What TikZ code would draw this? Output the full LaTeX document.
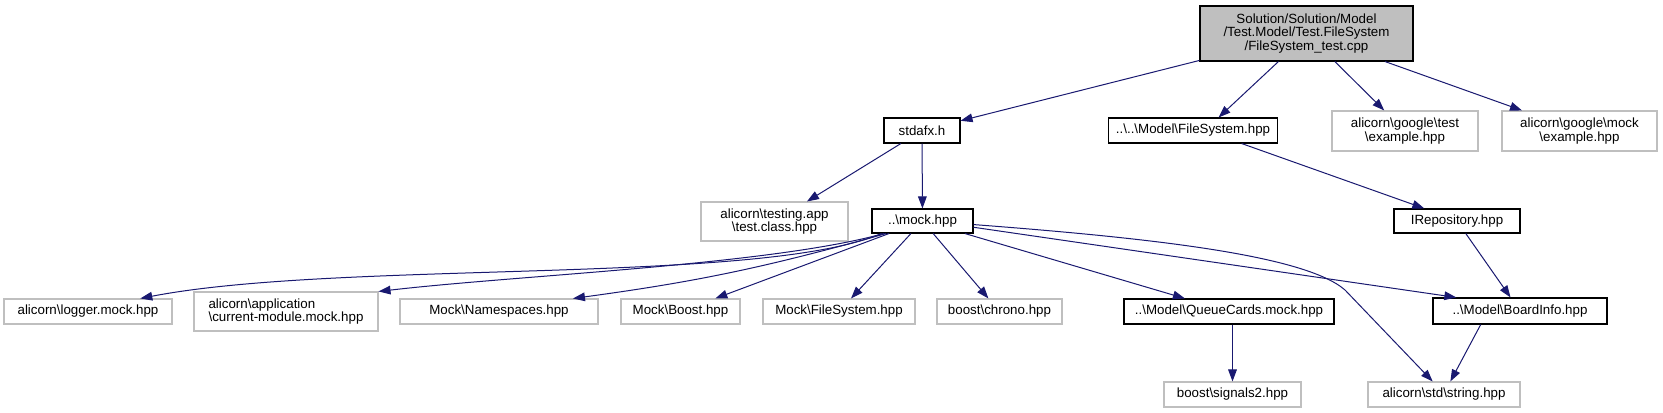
\documentclass[tikz,border=0pt]{standalone}
\usepackage{fontspec}
\setmainfont{Liberation Sans}
\usetikzlibrary{arrows.meta}
\definecolor{edgeblue}{HTML}{191970}
\definecolor{lightframe}{HTML}{BFBFBF}

\begin{document}
\begin{tikzpicture}[x=0.75pt,y=-0.75pt,>={Triangle[length=9pt,width=6.5pt]},
  file/.style={draw=black,fill=white,inner sep=0pt,line width=0.8pt,align=center,font=\fontsize{10}{10}\selectfont},
  ext/.style={file,draw=lightframe},
  sz/.style 2 args={minimum width=#1*0.75pt,minimum height=#2*0.75pt},
  dep/.style={->,draw=edgeblue,line width=0.75pt}]
\useasboundingbox (0,0) rectangle (1663,413);

\node[file,fill=lightframe,sz={213}{55}] (root) at (1306.5,33.5) {Solution/Solution/Model\\/Test.Model/Test.FileSystem\\/FileSystem\_test.cpp};

\node[file,sz={76}{25}] (stdafx) at (922,130.5) {stdafx.h};
\node[file,sz={169}{25}] (fsys) at (1193,130.5) {..\textbackslash..\textbackslash Model\textbackslash FileSystem.hpp};
\node[ext,sz={146}{40}] (gtest) at (1405,131) {alicorn\textbackslash google\textbackslash test\\\textbackslash example.hpp};
\node[ext,sz={155}{40}] (gmock) at (1579.5,131) {alicorn\textbackslash google\textbackslash mock\\\textbackslash example.hpp};

\node[ext,sz={147}{39}] (testapp) at (774.5,221.5) {alicorn\textbackslash testing.app\\\textbackslash test.class.hpp};
\node[file,sz={101}{24}] (mock) at (922.5,221) {..\textbackslash mock.hpp};
\node[file,sz={126}{24}] (irepo) at (1457,221) {IRepository.hpp};

\node[ext,sz={168}{25}] (logger) at (88,311.5) {alicorn\textbackslash logger.mock.hpp};
\node[ext,sz={184}{39},align=left] (curmod) at (286,311.5) {alicorn\textbackslash application\\\textbackslash current-module.mock.hpp};
\node[ext,sz={198}{25}] (nspace) at (499,311.5) {Mock\textbackslash Namespaces.hpp};
\node[ext,sz={119}{25}] (boost) at (680.5,311.5) {Mock\textbackslash Boost.hpp};
\node[ext,sz={152}{25}] (fsmock) at (839,311.5) {Mock\textbackslash FileSystem.hpp};
\node[ext,sz={125}{25}] (chrono) at (999.5,311.5) {boost\textbackslash chrono.hpp};
\node[file,sz={210}{25}] (qcards) at (1229,311.5) {..\textbackslash Model\textbackslash QueueCards.mock.hpp};
\node[file,sz={174}{26}] (board) at (1520,311) {..\textbackslash Model\textbackslash BoardInfo.hpp};

\node[ext,sz={137}{25}] (signals) at (1232.5,394.5) {boost\textbackslash signals2.hpp};
\node[ext,sz={152}{25}] (string) at (1444,394.5) {alicorn\textbackslash std\textbackslash string.hpp};

\draw[dep] (root) -- (stdafx);
\draw[dep] (root.225) -- (fsys.27);
\draw[dep] (root) -- (gtest);
\draw[dep] (root) -- (gmock);

\draw[dep] (stdafx) -- (testapp);
\draw[dep] (stdafx) -- (mock);
\draw[dep] (fsys.-15) -- (irepo.159);
\draw[dep] (irepo) -- (board);

\draw[dep] (mock.197) .. controls (760,285) and (340,260) .. (logger.14);
\draw[dep] (mock.198) .. controls (770,265) and (520,275) .. (curmod.north east);
\draw[dep] (mock.199) to[bend left=4] (nspace.10);
\draw[dep] (mock) -- (boost);
\draw[dep] (mock) -- (fsmock);
\draw[dep] (mock) -- (chrono);
\draw[dep] (mock) -- (qcards);
\draw[dep] (mock.-7) -- (board.168);
\draw[dep] (mock.-4) .. controls (1150,238) and (1305,255) .. (1345,290) -- (string.131);

\draw[dep] (qcards.south -| signals.north) -- (signals.north);
\draw[dep] (board.199) -- (string.64);
\end{tikzpicture}
\end{document}
